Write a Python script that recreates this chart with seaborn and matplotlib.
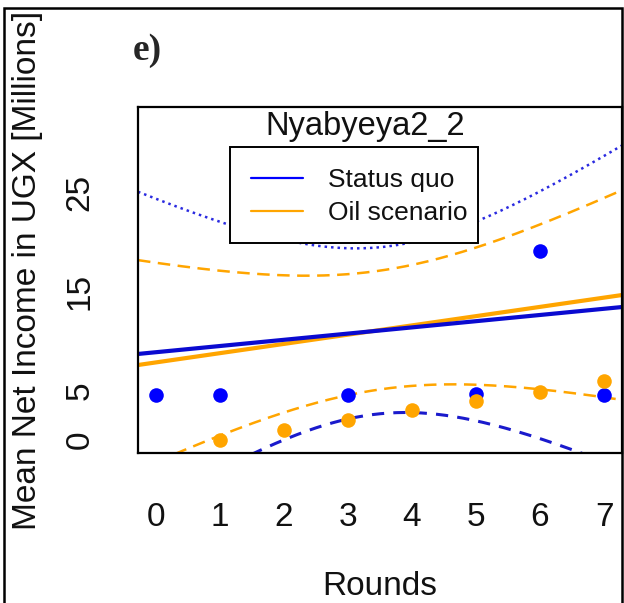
import numpy as np
import pandas as pd
import matplotlib
matplotlib.use("Agg")
import matplotlib.pyplot as plt
import seaborn as sns
from matplotlib.lines import Line2D
from matplotlib.patches import Rectangle

# Observed mean net income per round (UGX millions)
status_quo_rounds = [0, 1, 3, 5, 6, 7]
status_quo_income = [4.5, 4.5, 4.5, 4.7, 19.1, 4.5]
oil_rounds = [1, 2, 3, 4, 5, 6, 7]
oil_income = [0.0, 1.0, 2.0, 3.0, 3.9, 4.9, 6.0]

# Fitted trend lines: (intercept, slope)
status_quo_fit = (8.87, 0.627)
oil_fit = (7.84, 0.935)
# Confidence bands: (round of narrowest point, half-width there, widening per round)
status_quo_band = (3.51, 8.41, 3.71)
oil_band = (3.5, 6.0, 2.31)

x_ticks = [0, 1, 2, 3, 4, 5, 6, 7]
x_tick_labels = ["0", "1", "2", "3", "4", "5", "6", "7"]
y_ticks = [0, 5, 10, 15, 20, 25, 30]
y_tick_labels = ["0", "5", "", "15", "", "25", ""]

series_names = ["Status quo", "Oil scenario"]
BLUE = "#0000FF"
ORANGE = "#FFA500"

sns.set_theme(style="white")
plt.rcParams["font.family"] = ["Liberation Sans", "DejaVu Sans"]

W, H = 624, 603
fig = plt.figure(figsize=(W / 100, H / 100), dpi=100)


def fx(px):
    return px / W


def fy(py):
    return 1 - py / H


ax = fig.add_axes([fx(138), fy(453), fx(622) - fx(138), fy(107) - fy(453)])
xlim = (-0.28, 7.28)
ax.set_xlim(*xlim)
ax.set_ylim(-1.31, 33.64)

grid = np.linspace(xlim[0], xlim[1], 300)


def trend(fit, band):
    a, b = fit
    c, h, k = band
    centre = a + b * grid
    half = np.sqrt(h ** 2 + (k * (grid - c)) ** 2)
    return centre, centre - half, centre + half


sq_mid, sq_lo, sq_hi = trend(status_quo_fit, status_quo_band)
oil_mid, oil_lo, oil_hi = trend(oil_fit, oil_band)

# Status quo: solid fit, dotted upper and dashed lower band
sns.lineplot(x=grid, y=sq_hi, color="#2a2ae0", lw=1.8, linestyle=(0, (1, 1.6)), ax=ax, sort=False)
sns.lineplot(x=grid, y=sq_lo, color="#1a1acc", lw=2.2, linestyle=(0, (4, 3)), ax=ax, sort=False)
# Oil scenario: solid fit, dashed bands
sns.lineplot(x=grid, y=oil_hi, color=ORANGE, lw=1.8, linestyle=(0, (5, 3)), ax=ax, sort=False)
sns.lineplot(x=grid, y=oil_lo, color=ORANGE, lw=1.8, linestyle=(0, (5, 3)), ax=ax, sort=False)
sns.lineplot(x=grid, y=oil_mid, color=ORANGE, lw=3.0, ax=ax, sort=False)
sns.lineplot(x=grid, y=sq_mid, color="#0a0ad0", lw=3.0, ax=ax, sort=False)

sns.scatterplot(x=status_quo_rounds, y=status_quo_income, color=BLUE, s=110,
                linewidth=0, ax=ax, zorder=5)
sns.scatterplot(x=oil_rounds, y=oil_income, color=ORANGE, s=110,
                linewidth=0, ax=ax, zorder=6)

# Axes styling
for sp in ax.spines.values():
    sp.set_visible(True)
    sp.set_color("black")
    sp.set_linewidth(1.6)
ax.set_xticks(x_ticks)
ax.set_xticklabels(x_tick_labels)
ax.set_yticks(y_ticks)
ax.set_yticklabels(y_tick_labels, rotation=90, va="center")
ax.tick_params(axis="both", which="major", direction="out", length=14.4,
               width=1.4, color="black", labelsize=24, labelcolor="#111111")
ax.tick_params(axis="x", pad=21)
ax.tick_params(axis="y", pad=16)
ax.set_xlabel("")
ax.set_ylabel("")
ax.grid(False)

# Title inside the frame
fig.text(fx(365), fy(135), "Nyabyeya2_2", fontsize=23.5, ha="center",
         va="baseline", color="#111111")

# Legend (entries) with a square white box behind it
legend_box = Rectangle((fx(230), fy(243)), fx(478) - fx(230), fy(147) - fy(243),
                       transform=fig.transFigure, facecolor="white",
                       edgecolor="black", lw=1.4, zorder=8)
fig.add_artist(legend_box)
handles = [Line2D([0], [0], color=BLUE, lw=1.6),
           Line2D([0], [0], color=ORANGE, lw=1.6)]
leg = fig.legend(handles, series_names, loc="upper left",
                 bbox_to_anchor=(fx(230), fy(147)), bbox_transform=fig.transFigure,
                 borderaxespad=0, frameon=False, fontsize=19,
                 handlelength=1.95, handletextpad=0.95, borderpad=0.8,
                 labelspacing=0.33)
leg.set_zorder(9)
for t in leg.get_texts():
    t.set_color("#111111")

# Panel label and axis titles
fig.text(fx(133), fy(60), "e)", fontsize=27, fontweight="bold",
         family=["Liberation Serif", "DejaVu Serif"], ha="left", va="baseline")
fig.text(fx(28), fy(270), "Mean Net Income in UGX [Millions]", fontsize=24,
         rotation=90, ha="center", va="center", color="#111111")
fig.text(fx(380), fy(595), "Rounds", fontsize=24, ha="center", va="baseline",
         color="#111111")

# Outer frame
fig.add_artist(Rectangle((fx(4), fy(700)), fx(622) - fx(4), fy(8) - fy(700),
                         transform=fig.transFigure, fill=False, lw=1.8,
                         ec="black", clip_on=False))

fig.savefig("out.png", dpi=100)
